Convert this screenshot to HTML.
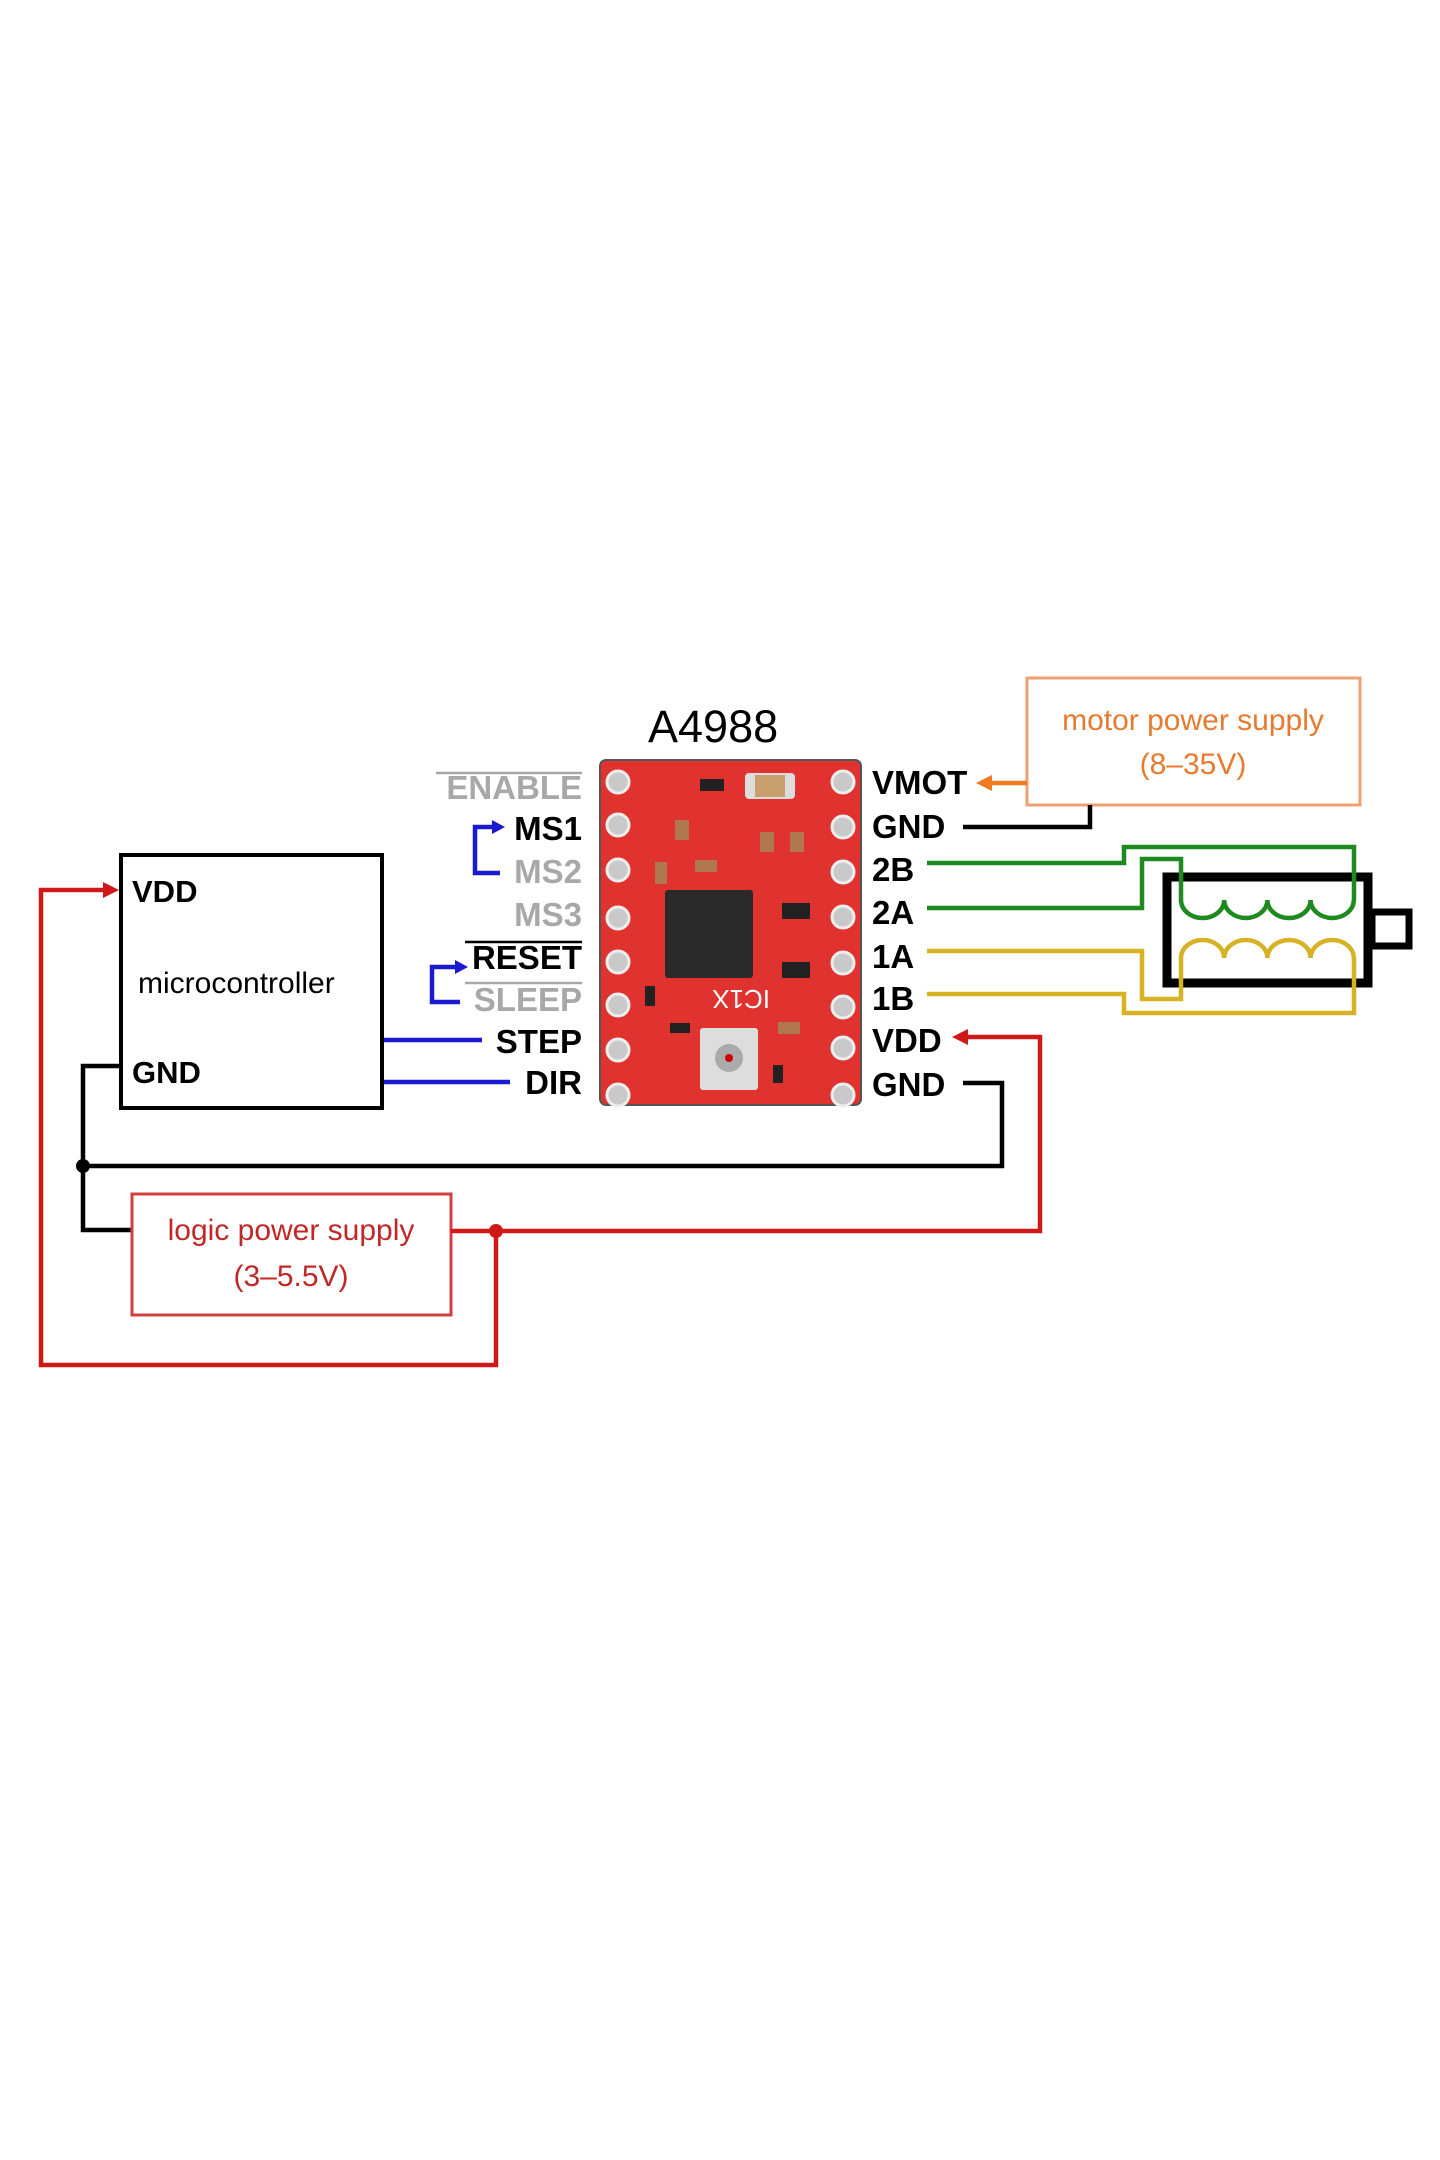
<!DOCTYPE html>
<html><head><meta charset="utf-8"><style>
html,body{margin:0;padding:0;background:#fff}
svg{display:block}
text{font-family:"Liberation Sans",sans-serif}
.b{font-weight:bold;font-size:33px}
</style></head><body>
<svg width="1440" height="2160" viewBox="0 0 1440 2160" xmlns="http://www.w3.org/2000/svg">
<rect width="1440" height="2160" fill="#fff"/>
<!-- title -->
<text x="648" y="742" font-size="45" fill="#000">A4988</text>
<!-- board -->
<rect x="600" y="760" width="261" height="345" rx="6" fill="#e0322e"/>
<rect x="600" y="760" width="261" height="345" rx="6" fill="none" stroke="#555" stroke-width="2"/>
<g fill="#c9c9c9" stroke="#eee" stroke-width="3">
<circle cx="618" cy="782" r="11"/><circle cx="618" cy="825" r="11"/><circle cx="618" cy="870" r="11"/><circle cx="618" cy="918" r="11"/><circle cx="618" cy="962" r="11"/><circle cx="618" cy="1005" r="11"/><circle cx="618" cy="1050" r="11"/><circle cx="618" cy="1095" r="11"/>
<circle cx="843" cy="782" r="11"/><circle cx="843" cy="827" r="11"/><circle cx="843" cy="872" r="11"/><circle cx="843" cy="917" r="11"/><circle cx="843" cy="963" r="11"/><circle cx="843" cy="1007" r="11"/><circle cx="843" cy="1048" r="11"/><circle cx="843" cy="1095" r="11"/>
</g>
<rect x="665" y="890" width="88" height="88" rx="3" fill="#2a2a2a"/>
<g fill="#ddd"><rect x="745" y="773" width="50" height="26" rx="4"/><rect x="700" y="1028" width="58" height="62" rx="3"/></g>
<rect x="755" y="775" width="30" height="22" fill="#c8a070"/>
<circle cx="729" cy="1058" r="14" fill="#aaa"/><circle cx="729" cy="1058" r="4" fill="#c00"/>
<g fill="#222"><rect x="700" y="779" width="24" height="12"/><rect x="782" y="903" width="28" height="16"/><rect x="782" y="962" width="28" height="16"/><rect x="670" y="1023" width="20" height="10"/><rect x="645" y="986" width="10" height="20"/><rect x="773" y="1065" width="10" height="18"/></g>
<g fill="#b07850"><rect x="675" y="820" width="14" height="20"/><rect x="760" y="832" width="14" height="20"/><rect x="790" y="832" width="14" height="20"/><rect x="655" y="862" width="12" height="22"/><rect x="695" y="860" width="22" height="12"/><rect x="778" y="1022" width="22" height="12"/></g>
<text x="710" y="1010" font-size="26" fill="#fff" transform="rotate(180 740 1000)">IC1X</text>
<!-- left labels -->
<g class="b" text-anchor="end">
<text x="582" y="799" fill="#a8a8a8">ENABLE</text>
<text x="582" y="840" fill="#000">MS1</text>
<text x="582" y="883" fill="#a8a8a8">MS2</text>
<text x="582" y="926" fill="#a8a8a8">MS3</text>
<text x="582" y="969" fill="#000">RESET</text>
<text x="582" y="1011" fill="#a8a8a8">SLEEP</text>
<text x="582" y="1053" fill="#000">STEP</text>
<text x="582" y="1094" fill="#000">DIR</text>
</g>
<line x1="436" y1="773" x2="582" y2="773" stroke="#a8a8a8" stroke-width="2.5"/>
<line x1="465" y1="942" x2="582" y2="942" stroke="#000" stroke-width="2.5"/>
<line x1="465" y1="983" x2="582" y2="983" stroke="#a8a8a8" stroke-width="2.5"/>
<!-- blue brackets -->
<g stroke="#1a1ad0" stroke-width="4.5" fill="none">
<polyline points="500,873 475,873 475,827 495,827"/>
<polyline points="460,1002 432,1002 432,967 458,967"/>
<line x1="382" y1="1040" x2="482" y2="1040"/>
<line x1="382" y1="1082" x2="510" y2="1082"/>
</g>
<g fill="#1a1ad0"><polygon points="505,827 492,820 492,834"/><polygon points="468,967 455,960 455,974"/></g>
<!-- microcontroller -->
<rect x="121" y="855" width="261" height="253" fill="none" stroke="#000" stroke-width="4"/>
<text x="132" y="902" class="b" fill="#000" style="font-size:31px">VDD</text>
<text x="132" y="1083" class="b" fill="#000" style="font-size:31px">GND</text>
<text x="138" y="993" font-size="30" fill="#000">microcontroller</text>
<!-- right labels -->
<g class="b" fill="#000">
<text x="872" y="794">VMOT</text>
<text x="872" y="838">GND</text>
<text x="872" y="881">2B</text>
<text x="872" y="924">2A</text>
<text x="872" y="968">1A</text>
<text x="872" y="1010">1B</text>
<text x="872" y="1052">VDD</text>
<text x="872" y="1096">GND</text>
</g>
<!-- motor power supply -->
<rect x="1027" y="678" width="333" height="127" fill="none" stroke="#f0a070" stroke-width="3"/>
<text x="1193" y="730" font-size="30" fill="#e87a30" text-anchor="middle">motor power supply</text>
<text x="1193" y="774" font-size="30" fill="#e87a30" text-anchor="middle">(8–35V)</text>
<line x1="1027" y1="783" x2="990" y2="783" stroke="#f07a20" stroke-width="4.5"/>
<polygon points="976,783 992,775 992,791" fill="#f07a20"/>
<polyline points="1090,805 1090,827 963,827" fill="none" stroke="#000" stroke-width="4.5"/>
<!-- motor -->
<rect x="1167" y="877" width="201" height="106" fill="none" stroke="#000" stroke-width="9"/>
<rect x="1372" y="912" width="37" height="34" fill="none" stroke="#000" stroke-width="7"/>
<g fill="none" stroke-width="4.5">
<g stroke="#1f8a1f">
<polyline points="927,863 1124,863 1124,847 1354,847 1354,900"/>
<polyline points="927,908 1142,908 1142,859 1181,859 1181,900"/>
<path d="M1181,900 a21.6,18 0 0 0 43.2,0 a21.6,18 0 0 0 43.2,0 a21.6,18 0 0 0 43.2,0 a21.6,18 0 0 0 43.2,0"/>
</g>
<g stroke="#d6b224">
<polyline points="927,951 1142,951 1142,999 1181,999 1181,958"/>
<polyline points="927,994 1124,994 1124,1013 1354,1013 1354,958"/>
<path d="M1181,958 a21.6,18 0 0 1 43.2,0 a21.6,18 0 0 1 43.2,0 a21.6,18 0 0 1 43.2,0 a21.6,18 0 0 1 43.2,0"/>
</g>
</g>
<!-- GND bus -->
<g fill="none" stroke="#000" stroke-width="4.5">
<polyline points="121,1066 83,1066 83,1230 132,1230"/>
<polyline points="83,1166 1002,1166 1002,1083 963,1083"/>
</g>
<circle cx="83" cy="1166" r="7" fill="#000"/>
<!-- logic power supply -->
<rect x="132" y="1194" width="319" height="121" fill="none" stroke="#d04040" stroke-width="3"/>
<text x="291" y="1240" font-size="30" fill="#c02828" text-anchor="middle">logic power supply</text>
<text x="291" y="1286" font-size="30" fill="#c02828" text-anchor="middle">(3–5.5V)</text>
<g fill="none" stroke="#d01818" stroke-width="4.5">
<polyline points="451,1231 1040,1231 1040,1037 965,1037"/>
<polyline points="496,1231 496,1365 41,1365 41,890 105,890"/>
</g>
<circle cx="496" cy="1231" r="7" fill="#d01818"/>
<polygon points="952,1037 968,1029 968,1045" fill="#d01818"/>
<polygon points="119,890 103,882 103,898" fill="#d01818"/>
</svg>
</body></html>
